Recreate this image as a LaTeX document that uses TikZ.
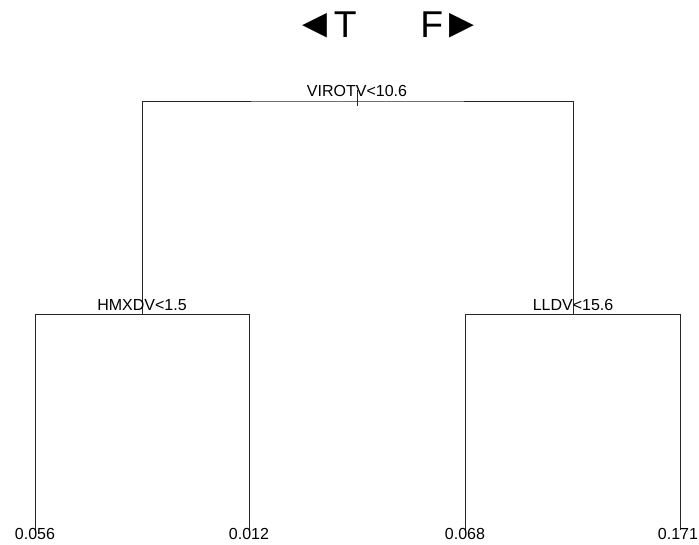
\documentclass[tikz,border=0pt]{standalone}
\usepackage{fontspec}
\setmainfont{Liberation Sans}
\usetikzlibrary{positioning}

\begin{document}
\begin{tikzpicture}[x=0.75pt,y=-0.75pt,
 branch/.style={draw=black!85,line width=0.7pt},
 splitlab/.style={anchor=base,inner sep=0pt,font=\fontsize{12}{14}\selectfont},
 leaflab/.style={anchor=base,inner sep=0pt,font=\fontsize{12}{14}\selectfont},
 sidelab/.style={inner sep=0pt,font=\fontsize{28}{32}\selectfont}]
\useasboundingbox (0,0) rectangle (699,544);
% direction of the splits
\node[sidelab,anchor=base east] (tside) at (357,37) {{\fontsize{31}{36}\selectfont ◄}\kern-1pt T};
\node[sidelab,anchor=base west] (fside) at (420,37) {F\kern-1pt{\fontsize{31}{36}\selectfont ►}};
% split points and leaf ends
\coordinate (root) at (357,101);
\coordinate (lsplit) at (142,314);
\coordinate (rsplit) at (573,314);
\coordinate (leafa) at (35,530);
\coordinate (leafb) at (249,530);
\coordinate (leafc) at (465,530);
\coordinate (leafd) at (680,530);
% branches
\draw[branch] (lsplit) |- (root) -| (rsplit);
\draw[branch] ([shift={(0,-11)}]root) -- ([shift={(0,5)}]root);
\draw[branch] (leafa) |- (lsplit) -| (leafb);
\draw[branch] (leafc) |- (rsplit) -| (leafd);
% split labels
\node[splitlab] (rootlab) at ([shift={(0,-5)}]root) {VIROTV<10.6};
\node[splitlab] (llab) at ([shift={(0,-4)}]lsplit) {HMXDV<1.5};
\node[splitlab] (rlab) at ([shift={(0,-4)}]rsplit) {LLDV<15.6};
% leaf values
\node[leaflab] (leafalab) at ([shift={(0,9)}]leafa) {0.056};
\node[leaflab] (leafblab) at ([shift={(0,9)}]leafb) {0.012};
\node[leaflab] (leafclab) at ([shift={(0,9)}]leafc) {0.068};
\node[leaflab] (leafdlab) at ([shift={(-2,9)}]leafd) {0.171};
\end{tikzpicture}
\end{document}
